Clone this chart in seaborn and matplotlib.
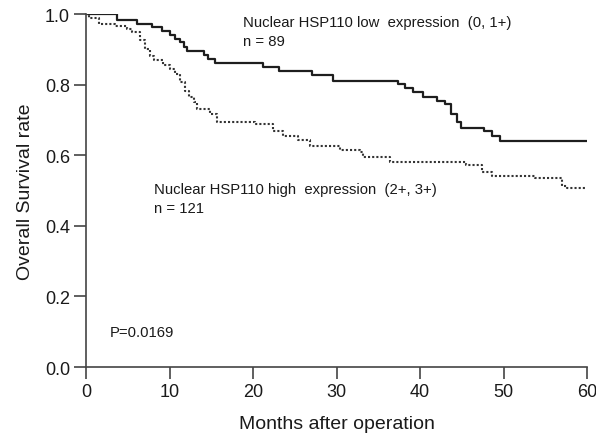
import matplotlib
matplotlib.use("Agg")
import matplotlib.pyplot as plt
import seaborn as sns
import pandas as pd

# ---- data ----
low_times = [0, 3.7, 6.1, 7.9, 9.1, 10.1, 10.7, 11.2, 11.7, 12.1, 14.1, 14.6, 15.4,
             21.2, 23.1, 27.1, 29.6, 37.4, 38.2, 39.1, 40.3, 42.0, 43.0, 43.7, 44.4,
             44.9, 47.6, 48.6, 49.6, 60]
low_surv = [1.0, 0.984, 0.973, 0.962, 0.953, 0.941, 0.929, 0.920, 0.906, 0.896, 0.885,
            0.873, 0.861, 0.851, 0.839, 0.828, 0.809, 0.802, 0.789, 0.778, 0.766, 0.753,
            0.745, 0.717, 0.695, 0.677, 0.668, 0.655, 0.641, 0.641]

high_times = [0, 0.3, 1.5, 3.5, 4.9, 5.5, 6.5, 7.1, 7.7, 8.1, 9.2, 10.1, 10.7, 11.3,
              11.9, 12.3, 12.9, 13.3, 14.9, 15.7, 20.2, 22.4, 23.6, 25.4, 26.8, 30.4,
              32.8, 33.2, 36.4, 45.5, 47.4, 48.6, 53.8, 57.0, 57.6, 60]
high_surv = [1.0, 0.990, 0.973, 0.967, 0.958, 0.948, 0.925, 0.901, 0.882, 0.870, 0.856,
             0.844, 0.830, 0.807, 0.783, 0.764, 0.750, 0.731, 0.717, 0.693, 0.688, 0.669,
             0.655, 0.644, 0.627, 0.615, 0.608, 0.596, 0.580, 0.571, 0.553, 0.541, 0.535,
             0.514, 0.507, 0.507]

x_ticks = [0, 10, 20, 30, 40, 50, 60]
y_ticks = [0.0, 0.2, 0.4, 0.6, 0.8, 1.0]
y_ticklabels = ["0.0", "0.2", "0.4", "0.6", "0.8", "1.0"]

low_label = ["Nuclear HSP110 low  expression  (0, 1+)", "n = 89"]
high_label = ["Nuclear HSP110 high  expression  (2+, 3+)", "n = 121"]
p_text = "P=0.0169"

# ---- plotting ----
sns.set_theme(style="ticks")
plt.rcParams["font.family"] = ["Liberation Sans", "DejaVu Sans"]

fig = plt.figure(figsize=(5.96, 4.35), dpi=100)
ax = fig.add_axes([0.1443, 0.154, 0.8407, 0.8115])

df_low = pd.DataFrame({"t": low_times, "s": low_surv})
df_high = pd.DataFrame({"t": high_times, "s": high_surv})

sns.lineplot(data=df_low, x="t", y="s", ax=ax, drawstyle="steps-post",
             estimator=None, color="#1e1e1e", linewidth=1.6, linestyle="-")
sns.lineplot(data=df_high, x="t", y="s", ax=ax, drawstyle="steps-post",
             estimator=None, color="#333333", linewidth=1.5, linestyle=(0, (1, 1)))

ax.set_xlim(0, 60)
ax.set_ylim(0, 1.0)
ax.set_xticks(x_ticks)
ax.set_yticks(y_ticks)
ax.set_yticklabels(y_ticklabels)
ax.set_xlabel("Months after operation", fontsize=14, color="#1a1a1a", labelpad=11)
ax.set_ylabel("Overall Survival rate", fontsize=14, color="#1a1a1a", labelpad=8)

for sp in ["top", "right"]:
    ax.spines[sp].set_visible(False)
for sp in ["left", "bottom"]:
    ax.spines[sp].set_color("#444444")
    ax.spines[sp].set_linewidth(1.2)
    ax.spines[sp].set_clip_on(False)

ax.tick_params(axis="both", direction="out", length=8.5, width=1.2,
               color="#444444", labelsize=13, labelcolor="#1a1a1a", pad=3)

txt_kw = dict(fontsize=10.7, color="#1a1a1a", va="center", ha="left")
ax.text(18.8, 0.977, low_label[0], **txt_kw)
ax.text(18.8, 0.924, low_label[1], **txt_kw)
ax.text(8.2, 0.504, high_label[0], **txt_kw)
ax.text(8.2, 0.450, high_label[1], **txt_kw)
ax.text(2.8, 0.099, p_text, **txt_kw)

fig.savefig("out.png", dpi=100)
